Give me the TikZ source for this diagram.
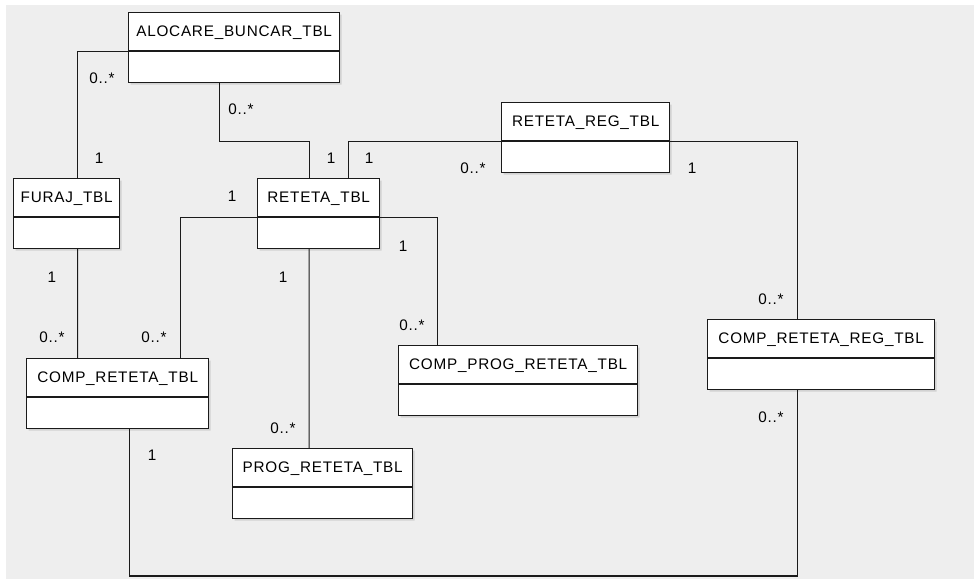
\documentclass[tikz,border=0pt]{standalone}
\usepackage{fontspec}
\setmainfont{Liberation Sans}[LetterSpace=5.0]
\usetikzlibrary{shapes.multipart,shadows,positioning,calc}
\definecolor{canvasgray}{HTML}{EEEEEE}
\definecolor{lineblack}{HTML}{1A1A1A}
\newcommand{\tbltitle}[1]{\rule[-0.27cm]{0pt}{0.74cm}#1\nodepart{two}\rule{0pt}{0.60cm}}
\tikzset{
  tbl/.style={rectangle split,rectangle split parts=2,draw=lineblack,fill=white,
    text width=#1,align=center,inner xsep=0pt,inner ysep=0pt,anchor=north west,
    line width=0.8pt,font=\fontsize{8.7}{10}\selectfont,
    drop shadow={shadow xshift=0.04cm,shadow yshift=-0.04cm,opacity=0.25}},
  assoc/.style={draw=lineblack,line width=0.6pt},
  mult/.style={font=\fontsize{8.7}{10}\selectfont,inner sep=0pt},
}
\begin{document}
\begin{tikzpicture}[x=0.02cm,y=-0.02cm]
  \useasboundingbox (0,0) rectangle (974,579);
  \fill[white] (0,0) rectangle (974,579);
  \fill[canvasgray] (6,5) rectangle (974,579);
  % tables
  \node[tbl=4.22cm] (alocare) at (128,12) {\tbltitle{ALOCARE\_BUNCAR\_TBL}};
  \node[tbl=2.12cm] (furaj) at (13,178) {\tbltitle{FURAJ\_TBL}};
  \node[tbl=2.44cm] (reteta) at (257,178) {\tbltitle{RETETA\_TBL}};
  \node[tbl=3.36cm] (retetareg) at (501,102) {\tbltitle{RETETA\_REG\_TBL}};
  \node[tbl=3.64cm] (compreteta) at (26,358) {\tbltitle{COMP\_RETETA\_TBL}};
  \node[tbl=4.78cm] (compprog) at (398,345) {\tbltitle{COMP\_PROG\_RETETA\_TBL}};
  \node[tbl=4.54cm] (compretetareg) at (707,319) {\tbltitle{COMP\_RETETA\_REG\_TBL}};
  \node[tbl=3.6cm] (progreteta) at (232,448) {\tbltitle{PROG\_RETETA\_TBL}};
  \coordinate (floor) at (0,576);
  % associations
  \draw[assoc] (alocare.text split west) -| ([xshift=0.22cm]furaj.north);
  \draw[assoc] ([xshift=-0.29cm]alocare.south) |- ([xshift=-0.19cm]reteta.north |- retetareg.text split west)
    -- ([xshift=-0.19cm]reteta.north);
  \draw[assoc] ([xshift=0.59cm]reteta.north) |- (retetareg.text split west);
  \draw[assoc] (retetareg.text split east) -| ([xshift=-0.48cm]compretetareg.north);
  \draw[assoc] (reteta.text split west) -| ([xshift=1.26cm]compreteta.north);
  \draw[assoc] (reteta.text split east) -| ([xshift=-1.62cm]compprog.north);
  \draw[assoc] ([xshift=-0.19cm]reteta.south) -- ([xshift=-0.27cm]progreteta.north);
  \draw[assoc] ([xshift=0.22cm]furaj.south) -- ([xshift=-0.8cm]compreteta.north);
  \draw[assoc] ([xshift=0.24cm]compreteta.south) |- ([xshift=-0.48cm]compretetareg.south |- floor)
    -- ([xshift=-0.48cm]compretetareg.south);
  % multiplicities
  \node[mult] (m1a) at (102,78) {0..*};
  \node[mult] (m1b) at (99,158) {1};
  \node[mult] (m2a) at (241,109) {0..*};
  \node[mult] (m2b) at (331,158) {1};
  \node[mult] (m3a) at (369,158) {1};
  \node[mult] (m3b) at (473,168) {0..*};
  \node[mult] (m4a) at (692,168) {1};
  \node[mult] (m4b) at (771,299) {0..*};
  \node[mult] (m5a) at (232,196) {1};
  \node[mult] (m5b) at (154,337) {0..*};
  \node[mult] (m6a) at (403,246) {1};
  \node[mult] (m6b) at (412,325) {0..*};
  \node[mult] (m7a) at (283,277) {1};
  \node[mult] (m7b) at (283,428) {0..*};
  \node[mult] (m8a) at (52,277) {1};
  \node[mult] (m8b) at (52,337) {0..*};
  \node[mult] (m9a) at (152,455) {1};
  \node[mult] (m9b) at (771,417) {0..*};
\end{tikzpicture}
\end{document}
